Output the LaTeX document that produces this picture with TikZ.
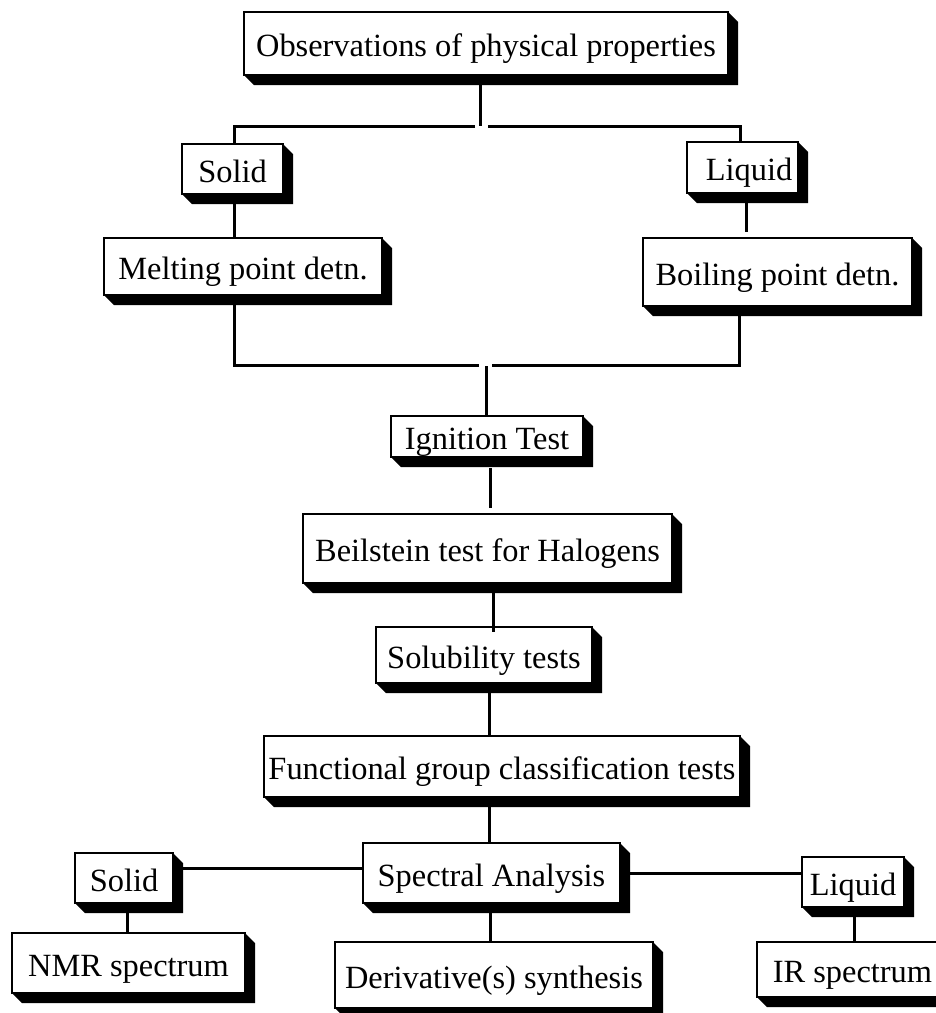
\documentclass[tikz,border=0pt]{standalone}
\usepackage{fontspec}
\setmainfont{Liberation Serif}
\usetikzlibrary{calc}
\newcommand\boxshade[1]{\fill (#1.north east) -- ++(10,10) -- ($(#1.south east)+(10,10)$) -- ($(#1.south west)+(10,10)$) -- (#1.south west) -- (#1.south east) -- cycle;}
\begin{document}
\begin{tikzpicture}[x=1pt,y=-1pt,
  flowbox/.style={draw, line width=2pt, fill=white, inner sep=0pt, outer sep=0pt, align=center,
    text height=26pt, text depth=0pt, font=\fontsize{32.4}{38}\selectfont},
  conn/.style={line width=3pt}]
\useasboundingbox (0,0) rectangle (936,1013);
\clip (0,0) rectangle (936,1013);
% boxes
\node[flowbox, minimum width=484pt, minimum height=63pt] (obs) at (486,43.5) {Observations of physical properties};
\node[flowbox, minimum width=101pt, minimum height=50pt] (solidA) at (232.5,169) {Solid};
\node[flowbox, minimum width=111pt, minimum height=51pt] (liquidA) at (742.5,167.5) {\hspace*{13pt}Liquid};
\node[flowbox, minimum width=278pt, minimum height=57pt] (melt) at (243,266.5) {Melting point detn.};
\node[flowbox, minimum width=269pt, minimum height=68pt] (boil) at (777.5,272) {Boiling point detn.};
\node[flowbox, minimum width=192pt, minimum height=41pt] (ign) at (487,436.5) {Ignition Test};
\node[flowbox, minimum width=369pt, minimum height=69pt] (beil) at (487.5,548.5) {Beilstein test for Halogens};
\node[flowbox, minimum width=216pt, minimum height=56pt] (solu) at (484,655) {Solubility tests};
\node[flowbox, minimum width=476pt, minimum height=61pt] (func) at (502,766.5) {Functional group classification tests};
\node[flowbox, minimum width=257pt, minimum height=60pt] (spec) at (491.5,873) {Spectral Analysis};
\node[flowbox, minimum width=98pt, minimum height=50pt] (solidB) at (124,878) {Solid};
\node[flowbox, minimum width=102pt, minimum height=50pt] (liquidB) at (853,882) {Liquid};
\node[flowbox, minimum width=233pt, minimum height=60pt] (nmr) at (128.5,963) {NMR spectrum};
\node[flowbox, minimum width=318pt, minimum height=66pt] (deriv) at (494,975) {Derivative(s) synthesis};
\node[flowbox, minimum width=191pt, minimum height=55pt] (ir) at (852.5,969.5) {IR spectrum};
% shadows
\foreach \b in {obs,solidA,liquidA,melt,boil,ign,beil,solu,func,spec,solidB,liquidB,nmr,deriv,ir}{\boxshade{\b}}
% junction coordinates
\coordinate (jt) at (480,126);
\coordinate (jtl) at (475,126);
\coordinate (jtr) at (488,126);
\coordinate (jml) at (479,365);
\coordinate (jmr) at (492,365);
% connectors
\draw[conn] (jt |- obs.south) -- (jt);
\draw[conn] (jtl) -| (234,0 |- solidA.north);
\draw[conn] (jtr) -| (740,0 |- liquidA.north);
\draw[conn] (234,204) -- (234,0 |- melt.north);
\draw[conn] (746,202) -- (746,232);
\draw[conn] (234,305) |- (jml);
\draw[conn] (739,316) |- (jmr);
\draw[conn] (486,366) -- (486,0 |- ign.north);
\draw[conn] (490,468) -- (490,508);
\draw[conn] (493,593) -- (493,632);
\draw[conn] (489,693) -- (489,0 |- func.north);
\draw[conn] (489,807) -- (489,0 |- spec.north);
\draw[conn] (490,913) -- (490,0 |- deriv.north);
\draw[conn] (183,868) -- (spec.west |- 0,868);
\draw[conn] (630,873) -- (liquidB.west |- 0,873);
\draw[conn] (127,913) -- (127,0 |- nmr.north);
\draw[conn] (854,917) -- (854,0 |- ir.north);
\end{tikzpicture}
\end{document}
